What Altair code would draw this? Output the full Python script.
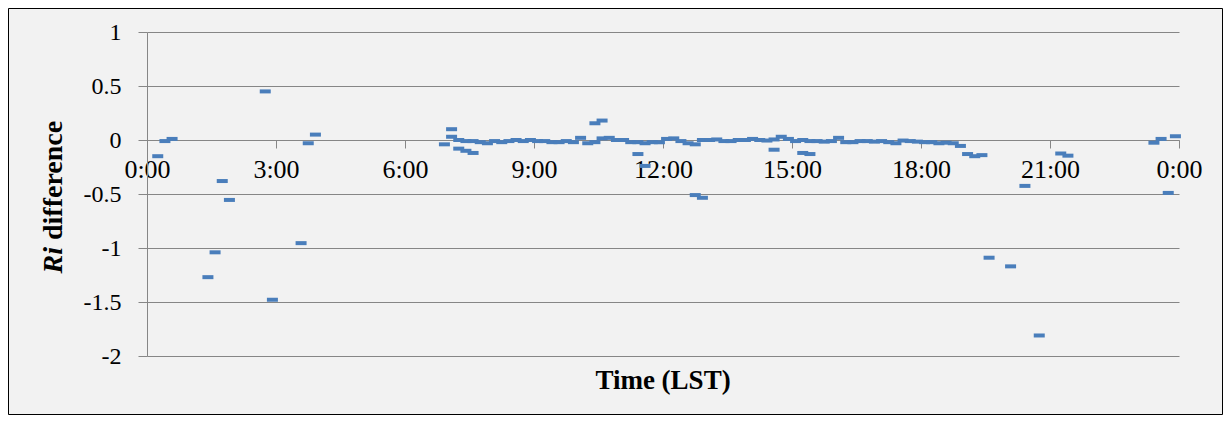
import altair as alt
import pandas as pd

# ---- data (time of day "H:MM", Ri difference) ----
night_times = ["0:15", "0:25", "0:35", "1:25", "1:35", "1:45", "1:55",
               "2:45", "2:55", "3:35", "3:45", "3:55"]
night_vals = [-0.15, -0.01, 0.01, -1.27, -1.04, -0.38, -0.555,
              0.45, -1.48, -0.955, -0.03, 0.05]

day_times = ["6:55", "7:05", "7:15", "7:25", "7:35", "7:45", "7:55",
             "8:05", "8:15", "8:25", "8:35", "8:45", "8:55",
             "9:05", "9:15", "9:25", "9:35", "9:45", "9:55",
             "10:05", "10:15", "10:25", "10:35", "10:45", "10:55",
             "11:05", "11:15", "11:25", "11:35", "11:45", "11:55",
             "12:05", "12:15", "12:25", "12:35", "12:45", "12:55",
             "13:05", "13:15", "13:25", "13:35", "13:45", "13:55",
             "14:05", "14:15", "14:25", "14:35", "14:45", "14:55",
             "15:05", "15:15", "15:25", "15:35", "15:45", "15:55",
             "16:05", "16:15", "16:25", "16:35", "16:45", "16:55",
             "17:05", "17:15", "17:25", "17:35", "17:45", "17:55",
             "18:05", "18:15", "18:25", "18:35", "18:45", "18:55"]
day_vals = [-0.04, 0.03, 0.00, -0.01, -0.01, -0.02, -0.03,
            -0.01, -0.02, -0.01, 0.00, -0.01, 0.00,
            -0.01, -0.01, -0.02, -0.02, -0.01, -0.02,
            0.02, -0.03, -0.02, 0.015, 0.02, 0.00,
            0.00, -0.02, -0.02, -0.03, -0.02, -0.02,
            0.01, 0.015, -0.01, -0.03, -0.04, 0.00,
            0.00, 0.005, -0.01, -0.01, 0.00, 0.00,
            0.01, 0.00, -0.005, 0.005, 0.03, 0.01,
            -0.01, 0.00, -0.01, -0.01, -0.015, -0.01,
            0.02, -0.02, -0.02, -0.01, -0.01, -0.015,
            -0.01, -0.02, -0.03, -0.005, -0.01, -0.015,
            -0.02, -0.02, -0.03, -0.025, -0.03, -0.055]

extra_times = ["7:05", "7:15", "7:25", "7:35", "10:25", "10:35", "11:25",
               "11:35", "12:45", "12:55", "14:35", "15:15", "15:25"]
extra_vals = [0.10, -0.08, -0.10, -0.12, 0.155, 0.18, -0.13,
              -0.24, -0.51, -0.535, -0.09, -0.12, -0.13]

evening_times = ["19:05", "19:15", "19:25", "19:35", "20:05", "20:25", "20:45",
                 "21:15", "21:25", "23:25", "23:35", "23:45", "23:55"]
evening_vals = [-0.13, -0.15, -0.14, -1.09, -1.17, -0.425, -1.81,
                -0.125, -0.145, -0.025, 0.01, -0.49, 0.035]

x_ticks = [0, 3, 6, 9, 12, 15, 18, 21, 24]
y_ticks = [-2, -1.5, -1, -0.5, 0, 0.5, 1]


def to_hours(t):
    h, m = t.split(":")
    return int(h) + int(m) / 60.0


times = night_times + day_times + extra_times + evening_times
vals = night_vals + day_vals + extra_vals + evening_vals
df = pd.DataFrame({"t": [to_hours(t) for t in times], "v": vals})

W, H = 1032, 324
GRID = "#868686"
FONT = "Liberation Serif"

points = alt.Chart(df).mark_tick(
    orient="horizontal", size=11, thickness=4, color="#4a7ebb", opacity=1
).encode(
    x=alt.X("t:Q", scale=alt.Scale(domain=[0, 24], nice=False, zero=False),
            axis=alt.Axis(values=x_ticks, labelExpr="floor(datum.value % 24) + ':00'",
                          orient="bottom", offset=-216, grid=False,
                          domainColor=GRID, tickColor=GRID, tickSize=8,
                          labelFont=FONT, labelFontSize=26, labelColor="black",
                          labelPadding=8, labelFlush=False, labelOverlap=False,
                          title=None)),
    y=alt.Y("v:Q", scale=alt.Scale(domain=[-2, 1], nice=False, zero=False),
            axis=alt.Axis(values=y_ticks, labelExpr="'' + datum.value",
                          grid=True, gridColor=GRID, gridWidth=1,
                          domainColor=GRID, tickColor=GRID, tickSize=9,
                          labelFont=FONT, labelFontSize=24, labelColor="black",
                          labelPadding=17, labelFlush=False, labelOverlap=False,
                          title=None)),
)

one = pd.DataFrame({"a": [0]})

frame = alt.Chart(one).mark_rect(
    fillOpacity=0, stroke="#000000", strokeWidth=1
).encode(x=alt.value(-138.5), x2=alt.value(1075.5), y=alt.value(-23.5), y2=alt.value(382.5))

x_title = alt.Chart(one).mark_text(
    text="Time (LST)", font=FONT, fontSize=27, fontWeight="bold",
    align="center", baseline="middle", color="black"
).encode(x=alt.value(W / 2), y=alt.value(349))

y_title_ri = alt.Chart(one).mark_text(
    text="Ri", font=FONT, fontSize=28, fontWeight="bold", fontStyle="italic",
    align="right", baseline="middle", angle=270, color="black"
).encode(x=alt.value(-93), y=alt.value(215))

y_title_rest = alt.Chart(one).mark_text(
    text="difference", font=FONT, fontSize=28, fontWeight="bold",
    align="left", baseline="middle", angle=270, color="black"
).encode(x=alt.value(-93), y=alt.value(208))

chart = alt.layer(frame, points, x_title, y_title_ri, y_title_rest).properties(
    width=W, height=H,
    background="#f2f2f2",
    padding={"left": 139, "top": 24, "right": 44, "bottom": 59},
    autosize=alt.AutoSizeParams(type="none"),
).configure_view(stroke="transparent")

chart.save("out.html", embed_options={"renderer": "svg", "actions": False})
